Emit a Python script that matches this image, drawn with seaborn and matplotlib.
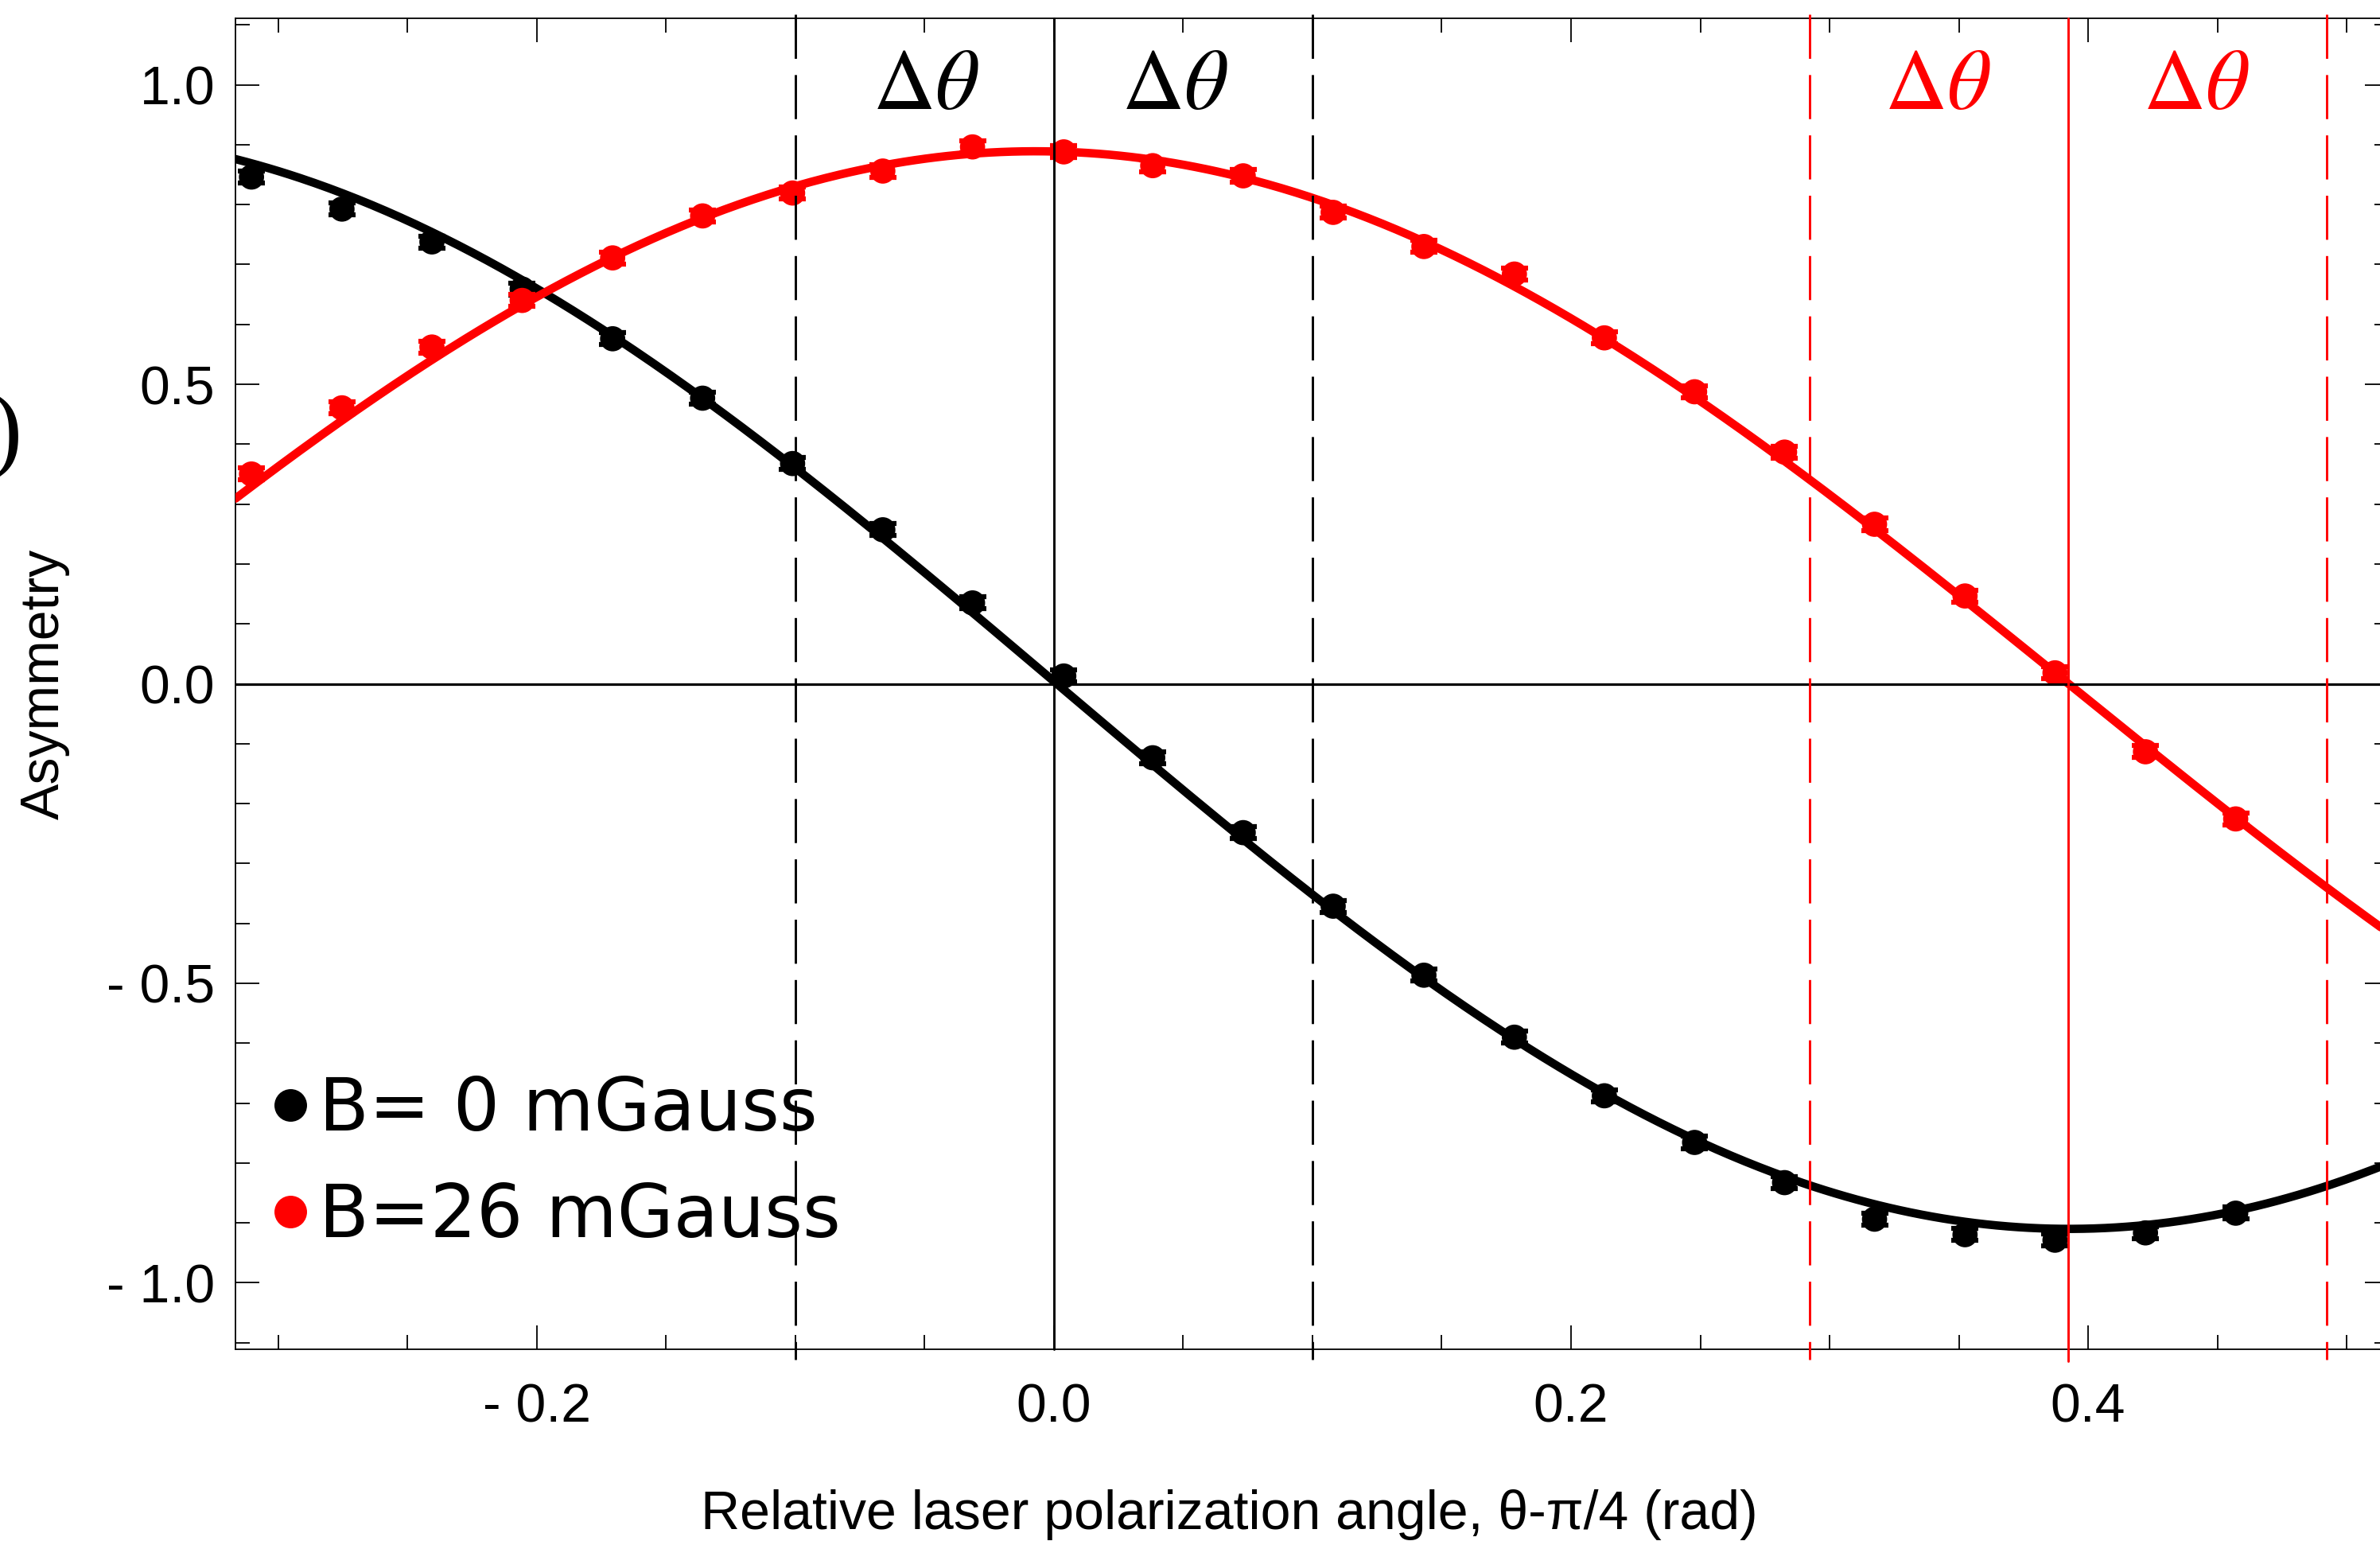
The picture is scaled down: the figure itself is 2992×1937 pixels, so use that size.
import numpy as np
import pandas as pd
import matplotlib
matplotlib.use("Agg")
import matplotlib.pyplot as plt
import seaborn as sns
from matplotlib.lines import Line2D
from matplotlib.ticker import FixedLocator, MultipleLocator

# ---- measured data -------------------------------------------------------
# relative laser polarization angle theta - pi/4 (rad)
angle = [-0.3104, -0.2754, -0.2406, -0.2057, -0.1707, -0.1359, -0.1011, -0.0662,
         -0.0315, 0.0038, 0.0382, 0.0732, 0.1080, 0.1431, 0.1781, 0.2129,
         0.2478, 0.2826, 0.3174, 0.3524, 0.3872, 0.4222, 0.4571]

# asymmetry without field (B = 0 mGauss)
asym_b0 = [0.846, 0.7925, 0.7377, 0.659, 0.576, 0.4768, 0.3677, 0.2571,
           0.135, 0.013, -0.1235, -0.2485, -0.3713, -0.4865, -0.590, -0.6878,
           -0.7657, -0.8328, -0.8938, -0.9197, -0.9289, -0.9167, -0.8838]

# asymmetry with field (B = 26 mGauss)
asym_b26 = [0.3502, 0.4607, 0.5622, 0.640, 0.711, 0.7811, 0.8193, 0.856,
            0.8963, 0.888, 0.865, 0.848, 0.787, 0.730, 0.684, 0.5775,
            0.4875, 0.3868, 0.2663, 0.1466, 0.0183, -0.1135, -0.2256]

asym_err = 0.010

series_labels = ["B= 0 mGauss", "B=26 mGauss"]
series_colors = ["#000000", "#ff0000"]

# fitted curves: A * sin(k * (x - x_zero)) + offset
fit_amplitude = [-0.914, -0.889]
fit_k = [4.0, 3.93]
fit_offset = [0.004, 0.0]

# zero crossings of the fits and the +/- delta-theta windows around them
window_centers = [0.0, 0.3924]
window_half = 0.1
delta_label_x = [[-0.0495, 0.0468], [0.3419, 0.4417]]

x_ticks = [-0.2, 0.0, 0.2, 0.4]
x_tick_labels = ["- 0.2", "0.0", "0.2", "0.4"]
y_ticks = [-1.0, -0.5, 0.0, 0.5, 1.0]
y_tick_labels = ["- 1.0", "- 0.5", "0.0", "0.5", "1.0"]

x_limits = (-0.3166, 0.5163)
y_limits = (-1.111, 1.111)

# ---- style ----------------------------------------------------------------
sns.set_theme(style="ticks")
plt.rcParams["font.family"] = ["Liberation Sans", "DejaVu Sans"]
plt.rcParams["mathtext.fontset"] = "stix"
plt.rcParams.update({
    "axes.linewidth": 1.3,
    "text.color": "black",
    "axes.labelcolor": "black",
    "axes.edgecolor": "black",
    "xtick.color": "black",
    "ytick.color": "black",
})

DPI = 100
fig = plt.figure(figsize=(2992 / DPI, 1937 / DPI), dpi=DPI)
ax = fig.add_axes([296 / 2992, 241 / 1937, 2707 / 2992, 1673 / 1937])

frames = []
for label, values in zip(series_labels, [asym_b0, asym_b26]):
    frames.append(pd.DataFrame({"angle": angle, "asym": values, "field": label}))
data = pd.concat(frames, ignore_index=True)

fit_x = np.linspace(x_limits[0], x_limits[1], 600)
z = 3
for i, (label, color) in enumerate(zip(series_labels, series_colors)):
    sub = data[data["field"] == label]
    ax.errorbar(sub["angle"], sub["asym"], yerr=asym_err, fmt="none",
                ecolor=color, elinewidth=4, capsize=12, capthick=4.5, zorder=z)
    sns.scatterplot(x=sub["angle"], y=sub["asym"], ax=ax, color=color, s=520,
                    edgecolor="none", linewidth=0, zorder=z + 1)
    fit_y = fit_amplitude[i] * np.sin(fit_k[i] * (fit_x - window_centers[i])) + fit_offset[i]
    sns.lineplot(x=fit_x, y=fit_y, ax=ax, color=color, linewidth=7.6, zorder=z + 2)
    z += 3

# reference lines
ax.axhline(0.0, color="black", linewidth=2.3, zorder=20)
dash = (0, (19, 7))
for i, (center, color, texts) in enumerate(zip(window_centers, series_colors, delta_label_x)):
    low = 0.0 if i == 0 else -0.009
    ax.plot([center, center], [1.0, low], transform=ax.get_xaxis_transform(),
            color=color, linewidth=2.1, zorder=20, clip_on=False)
    for edge in (center - window_half, center + window_half):
        ax.plot([edge, edge], [1.003, -0.008], transform=ax.get_xaxis_transform(),
                color=color, linewidth=2.1, linestyle=dash, zorder=20, clip_on=False)
    for tx in texts:
        ax.text(tx, 0.9592, r"$\Delta\theta$", color=color, fontsize=78,
                ha="center", va="baseline", zorder=21)

ax.set_xlim(*x_limits)
ax.set_ylim(*y_limits)

ax.xaxis.set_major_locator(FixedLocator(x_ticks))
ax.set_xticklabels(x_tick_labels)
ax.xaxis.set_minor_locator(MultipleLocator(0.05))
ax.yaxis.set_major_locator(FixedLocator(y_ticks))
ax.set_yticklabels(y_tick_labels)
ax.yaxis.set_minor_locator(MultipleLocator(0.1))

ax.tick_params(which="both", direction="in", top=True, right=True,
               width=1.3, color="black", labelcolor="black")
ax.tick_params(which="major", length=21.6, labelsize=49)
ax.tick_params(which="minor", length=13.3)
ax.tick_params(axis="x", which="major", pad=30)
ax.tick_params(axis="y", which="major", pad=18.5)
for spine in ax.spines.values():
    spine.set_color("black")

ax.set_xlabel("Relative laser polarization angle, θ-π/4 (rad)", fontsize=49,
              color="black")
ax.xaxis.label.set_va("baseline")
ax.xaxis.set_label_coords(0.4614, -0.1351)
ax.set_ylabel("Asymmetry", fontsize=49, color="black")
ax.yaxis.label.set_va("baseline")
ax.yaxis.set_label_coords(-0.082, 0.5)

handles = [Line2D([], [], linestyle="none", marker="o", markersize=29.5,
                  markerfacecolor=c, markeredgecolor="none") for c in series_colors]
ax.legend(handles, series_labels, loc="upper left",
          bbox_to_anchor=(342 / 2992, 1 - 1350 / 1937),
          bbox_transform=fig.transFigure, frameon=False,
          prop={"family": "DejaVu Sans", "size": 66}, labelcolor="black",
          handlelength=0.5, handletextpad=0.14, labelspacing=0.48,
          borderpad=0, borderaxespad=0)

# panel marker at the left margin
fig.text(27 / 2992, 1 - 549 / 1937, ")", fontsize=87, family="Liberation Serif",
         ha="right", va="center", color="black")

fig.savefig("out.png", dpi=DPI)
